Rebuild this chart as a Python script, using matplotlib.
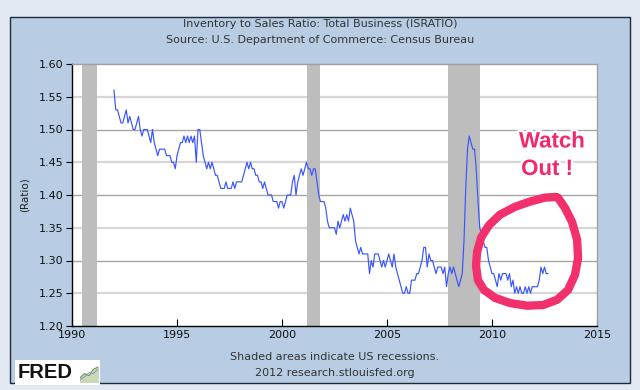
import matplotlib
matplotlib.use("Agg")
import matplotlib.pyplot as plt
import matplotlib.patheffects as pe
from matplotlib.patches import Rectangle
import numpy as np
import pandas as pd

# ---- data ----
start_month = "1992-01"
ratio = [
    # 1992
    1.56, 1.53, 1.53, 1.52, 1.51, 1.51, 1.52, 1.53, 1.51, 1.52, 1.51, 1.50,
    # 1993
    1.50, 1.51, 1.52, 1.50, 1.49, 1.50, 1.50, 1.50, 1.49, 1.48, 1.50, 1.48,
    # 1994
    1.47, 1.46, 1.47, 1.47, 1.47, 1.47, 1.46, 1.46, 1.46, 1.45, 1.45, 1.44,
    # 1995
    1.46, 1.47, 1.48, 1.48, 1.49, 1.48, 1.49, 1.48, 1.49, 1.48, 1.49, 1.45,
    # 1996
    1.50, 1.50, 1.48, 1.46, 1.45, 1.44, 1.45, 1.44, 1.45, 1.44, 1.43, 1.43,
    # 1997
    1.42, 1.41, 1.41, 1.41, 1.42, 1.41, 1.41, 1.41, 1.42, 1.41, 1.42, 1.42,
    # 1998
    1.42, 1.42, 1.43, 1.44, 1.45, 1.44, 1.45, 1.44, 1.44, 1.43, 1.43, 1.42,
    # 1999
    1.42, 1.41, 1.42, 1.41, 1.40, 1.40, 1.40, 1.39, 1.39, 1.39, 1.38, 1.39,
    # 2000
    1.39, 1.38, 1.39, 1.40, 1.40, 1.40, 1.42, 1.43, 1.40, 1.42, 1.43, 1.44,
    # 2001
    1.43, 1.44, 1.45, 1.44, 1.44, 1.43, 1.44, 1.44, 1.42, 1.40, 1.39, 1.39,
    # 2002
    1.39, 1.38, 1.36, 1.35, 1.35, 1.35, 1.35, 1.34, 1.36, 1.35, 1.36, 1.37,
    # 2003
    1.36, 1.37, 1.36, 1.38, 1.37, 1.36, 1.33, 1.32, 1.31, 1.32, 1.31, 1.31,
    # 2004
    1.31, 1.31, 1.28, 1.30, 1.29, 1.31, 1.31, 1.31, 1.30, 1.29, 1.30, 1.29,
    # 2005
    1.30, 1.31, 1.30, 1.29, 1.31, 1.29, 1.28, 1.27, 1.26, 1.25, 1.25, 1.26,
    # 2006
    1.25, 1.25, 1.27, 1.27, 1.27, 1.28, 1.28, 1.29, 1.30, 1.32, 1.32, 1.29,
    # 2007
    1.31, 1.30, 1.30, 1.29, 1.28, 1.29, 1.29, 1.29, 1.28, 1.29, 1.26, 1.28,
    # 2008
    1.29, 1.28, 1.29, 1.28, 1.27, 1.26, 1.27, 1.28, 1.33, 1.41, 1.47, 1.49,
    # 2009
    1.48, 1.47, 1.47, 1.44, 1.39, 1.35, 1.34, 1.33, 1.32, 1.32, 1.30, 1.29,
    # 2010
    1.28, 1.28, 1.27, 1.26, 1.28, 1.27, 1.28, 1.28, 1.28, 1.27, 1.28, 1.26,
    # 2011
    1.27, 1.25, 1.26, 1.25, 1.26, 1.25, 1.25, 1.26, 1.25, 1.26, 1.25, 1.26,
    # 2012
    1.26, 1.26, 1.26, 1.27, 1.29, 1.28, 1.29, 1.28, 1.28,
]
recession_start = [1990.5, 2001.17, 2007.92]
recession_end = [1991.17, 2001.83, 2009.42]
y_ticks = [1.20, 1.25, 1.30, 1.35, 1.40, 1.45, 1.50, 1.55, 1.60]
x_ticks = [1990, 1995, 2000, 2005, 2010, 2015]

title_lines = ["Inventory to Sales Ratio: Total Business (ISRATIO)",
               "Source: U.S. Department of Commerce: Census Bureau"]
footer_lines = ["Shaded areas indicate US recessions.",
                "2012 research.stlouisfed.org"]

# hand-drawn loop annotation (year, ratio)
loop_x = [2013.05, 2012.52, 2011.81, 2011.10, 2010.38, 2009.86, 2009.48, 2009.29,
          2009.24, 2009.33, 2009.62, 2010.14, 2010.86, 2011.67, 2012.43, 2013.10,
          2013.62, 2013.95, 2014.10, 2014.05, 2013.81, 2013.48, 2013.14]
loop_y = [1.397, 1.396, 1.390, 1.382, 1.370, 1.354, 1.335, 1.313,
          1.292, 1.270, 1.255, 1.243, 1.235, 1.231, 1.232, 1.240,
          1.255, 1.278, 1.304, 1.332, 1.359, 1.380, 1.396]

# ---- figure ----
W, H = 640, 390
fig = plt.figure(figsize=(6.4, 3.9), dpi=100, facecolor="#e3e9f1")

panel = Rectangle((10 / W, 1 - 383 / H), 620 / W, 366 / H, transform=fig.transFigure,
                  facecolor="#b8cde4", edgecolor="#1d2b3a", lw=1.0, zorder=-10)
fig.patches.append(panel)

ax = fig.add_axes([72 / W, 1 - 326 / H, 525 / W, 262 / H])
ax.set_facecolor("white")

dates = pd.period_range(start=start_month, periods=len(ratio), freq="M")
years = np.array([d.year + (d.month - 1) / 12 for d in dates])

ax.set_xlim(1990, 2015)
ax.set_ylim(1.20, 1.60)

for yv in y_ticks[1:-1]:
    dark = round(yv * 100) % 10 == 0
    ax.axhline(yv, color="#a6a6a6" if dark else "#d6d6d6", lw=1.0 if dark else 1.6, zorder=1)

for s, e in zip(recession_start, recession_end):
    ax.axvspan(s, e, color="#bdbdbd", lw=0, zorder=2)

ax.plot(years, ratio, color="#3a55ff", lw=0.85, zorder=3)

ax.set_yticks(y_ticks)
ax.set_yticklabels([f"{v:.2f}" for v in y_ticks], fontsize=8, color="#111111")
ax.set_xticks(x_ticks)
ax.set_xticklabels([str(v) for v in x_ticks], fontsize=8, color="#111111")
ax.tick_params(axis="y", direction="out", length=4, width=0.8, pad=2)
ax.tick_params(axis="x", direction="in", length=5, width=0.8, pad=3)
for side in ["left", "bottom"]:
    ax.spines[side].set_color("#000000")
    ax.spines[side].set_linewidth(1.0)
for side in ["top", "right"]:
    ax.spines[side].set_color("#a0a0a0")
    ax.spines[side].set_linewidth(1.0)
ax.set_ylabel("(Ratio)", fontsize=7.5, color="#222222", labelpad=7)

# loop annotation
ax.plot(loop_x, loop_y, color="#f2306c", lw=6, solid_capstyle="round",
        solid_joinstyle="round", zorder=5, clip_on=False)
txt_fx = [pe.withSimplePatchShadow(offset=(1, -1), shadow_rgbFace="#888888", alpha=0.6),
          pe.Stroke(linewidth=3.5, foreground="white"), pe.Normal()]
ax.text(2012.85, 1.481, "Watch", fontsize=16, fontweight="bold", family="Liberation Sans",
        color="#f2286a", ha="center", va="center", zorder=6, path_effects=txt_fx)
ax.text(2012.62, 1.439, "Out !", fontsize=16, fontweight="bold", family="Liberation Sans",
        color="#f2286a", ha="center", va="center", zorder=6, path_effects=txt_fx)

# titles and footer
fig.text(0.5, 1 - 24 / H, title_lines[0], ha="center", va="center", fontsize=8, color="#333333")
fig.text(0.5, 1 - 40 / H, title_lines[1], ha="center", va="center", fontsize=8, color="#333333")
fig.text(335 / W, 1 - 357 / H, footer_lines[0], ha="center", va="center", fontsize=8, color="#333333")
fig.text(335 / W, 1 - 373 / H, footer_lines[1], ha="center", va="center", fontsize=8, color="#333333")

# FRED logo
logo = Rectangle((15 / W, 1 - 385 / H), 85 / W, 25 / H, transform=fig.transFigure,
                 facecolor="white", edgecolor="none", zorder=-5)
fig.patches.append(logo)
fig.text(18 / W, 1 - 373 / H, "FRED", fontsize=14.5, fontweight="bold", family="Liberation Sans",
         color="#111111", ha="left", va="center")
icon_ax = fig.add_axes([80 / W, 1 - 382 / H, 18 / W, 17 / H])
icon_ax.set_facecolor("#eef1ee")
icon_ax.fill_between([0, 1, 2, 3, 4], [0, 0, 0, 0, 0], [1, 2, 1.5, 3, 3.5], color="#c8d8b8")
icon_ax.plot([0, 1, 2, 3, 4], [1, 2, 1.5, 3, 3.5], color="#6f9a4a", lw=0.8)
icon_ax.plot([0, 1, 2, 3, 4], [0.5, 1.2, 2.2, 2.0, 3.0], color="#7a8fc8", lw=0.6)
icon_ax.set_xlim(0, 4)
icon_ax.set_ylim(0, 4)
icon_ax.axis("off")

fig.savefig("out.png", dpi=100, facecolor=fig.get_facecolor())
